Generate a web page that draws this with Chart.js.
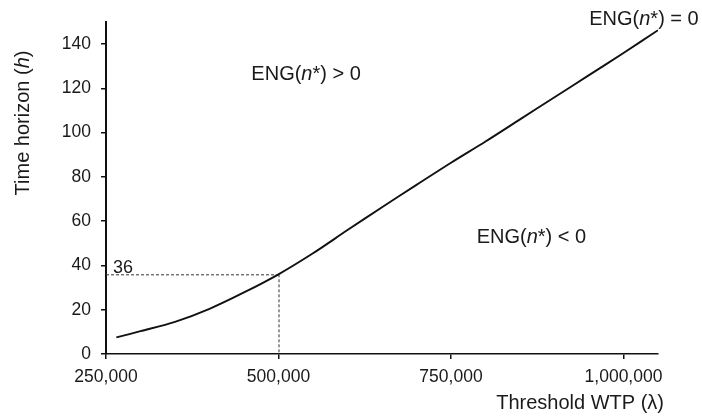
<!DOCTYPE html>
<html>
<head>
<meta charset="utf-8">
<script src="https://cdn.jsdelivr.net/npm/chart.js@4.4.1/dist/chart.umd.min.js"></script>
<style>
  html, body { margin: 0; padding: 0; background: #fff; }
  #wrap { width: 702px; height: 417px; }
</style>
</head>
<body>
<div id="wrap"><canvas id="c" width="702" height="417"></canvas></div>
<script>
// ---- data ----
const wtp = [265000, 300000, 350000, 400000, 450000, 500000, 550000, 600000, 650000, 700000, 750000, 800000, 850000, 900000, 950000, 1000000, 1050000];
const horizon = [7.5, 10.3, 14.5, 20.4, 27.8, 36, 45.5, 56, 66.3, 76.4, 86.4, 96, 106, 116, 126, 136, 146.3];
const refWTP = 500000;
const refH = 36;
const yTicks = [0, 20, 40, 60, 80, 100, 120, 140];
const xTicks = [250000, 500000, 750000, 1000000];

const FONT = '"Liberation Sans", Arial, sans-serif';
const TXT = '#1a1a1a';

function drawRich(ctx, parts, x, y, align, size) {
  let w = 0;
  parts.forEach(p => {
    ctx.font = (p.i ? 'italic ' : '') + size + 'px ' + FONT;
    p.w = ctx.measureText(p.t).width; w += p.w;
  });
  let sx = align === 'right' ? x - w : (align === 'center' ? x - w / 2 : x);
  ctx.textAlign = 'left';
  ctx.textBaseline = 'middle';
  parts.forEach(p => {
    ctx.font = (p.i ? 'italic ' : '') + size + 'px ' + FONT;
    ctx.fillText(p.t, sx, y);
    sx += p.w;
  });
}

const eng = (rest) => [{t: 'ENG('}, {t: 'n', i: true}, {t: '*) ' + rest}];
const notes = [
  {parts: eng('> 0'), x: 540000, y: 126.5, align: 'center'},
  {parts: eng('< 0'), x: 866500, y: 52.8, align: 'center'},
  {parts: eng('= 0'), x: 1109000, y: 151, align: 'right'}
];

const overlay = {
  id: 'overlay',
  beforeDatasetsDraw(chart) {
    const ctx = chart.ctx, xs = chart.scales.x, ys = chart.scales.y;
    const px = xs.getPixelForValue(refWTP), py = ys.getPixelForValue(refH);
    ctx.save();
    ctx.setLineDash([3, 2]);
    ctx.lineWidth = 1;
    ctx.strokeStyle = '#333';
    ctx.beginPath();
    ctx.moveTo(xs.left, py + 0.5); ctx.lineTo(px, py + 0.5);
    ctx.moveTo(px + 0.5, py); ctx.lineTo(px + 0.5, ys.bottom);
    ctx.stroke();
    ctx.restore();
  },
  afterDraw(chart) {
    const ctx = chart.ctx, xs = chart.scales.x, ys = chart.scales.y;
    ctx.save();
    ctx.fillStyle = TXT;
    // 36 label
    ctx.font = '18px ' + FONT;
    ctx.textAlign = 'left'; ctx.textBaseline = 'alphabetic';
    ctx.fillText(String(refH), xs.left + 7, ys.getPixelForValue(refH) - 1);
    // region notes
    notes.forEach(n => drawRich(ctx, n.parts, xs.getPixelForValue(n.x), ys.getPixelForValue(n.y), n.align, 20));
    // axis titles
    ctx.save();
    ctx.translate(23, 123);
    ctx.rotate(-Math.PI / 2);
    drawRich(ctx, [{t: 'Time horizon ('}, {t: 'h', i: true}, {t: ')'}], 0, 0, 'center', 20);
    ctx.restore();
    drawRich(ctx, [{t: 'Threshold WTP (λ)'}], 664, 403, 'right', 20);
    ctx.restore();
  }
};

new Chart(document.getElementById('c'), {
  type: 'line',
  data: {
    datasets: [{
      data: wtp.map((v, i) => ({x: v, y: horizon[i]})),
      borderColor: '#111',
      borderWidth: 1.9,
      pointRadius: 0,
      tension: 0.3,
      fill: false
    }]
  },
  options: {
    responsive: false,
    animation: false,
    devicePixelRatio: 1,
    layout: {padding: {left: 0, right: 44, top: 22, bottom: 0}},
    plugins: {legend: {display: false}, tooltip: {enabled: false}},
    scales: {
      x: {
        type: 'linear',
        min: 250000, max: 1050000,
        afterFit: s => { s.height = 63; },
        afterBuildTicks: s => { s.ticks = xTicks.map(v => ({value: v})); },
        grid: {drawOnChartArea: false, drawTicks: true, tickLength: 5, color: '#111', lineWidth: 1.5},
        border: {display: true, color: '#111', width: 1.5},
        ticks: {
          color: TXT, font: {family: FONT, size: 17.5}, padding: 8, maxRotation: 0,
          callback: v => v.toLocaleString('en-US')
        }
      },
      y: {
        type: 'linear',
        min: 0, max: 150,
        afterFit: s => { s.width = 106; },
        afterBuildTicks: s => { s.ticks = yTicks.map(v => ({value: v})); },
        grid: {drawOnChartArea: false, drawTicks: true, tickLength: 5, color: '#111', lineWidth: 1.5},
        border: {display: true, color: '#111', width: 2},
        ticks: {color: TXT, font: {family: FONT, size: 17.5}, padding: 10}
      }
    }
  },
  plugins: [overlay]
});
</script>
</body>
</html>
